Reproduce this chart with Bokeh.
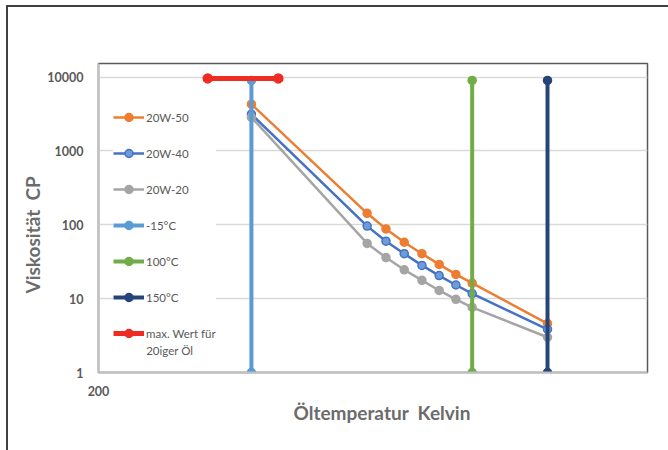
import math
from bokeh.plotting import figure
from bokeh.models import Legend, LegendItem, Label, FixedTicker, Range1d, Title
from bokeh.embed import file_html
from bokeh.resources import INLINE

# ---- data (temperatures in Kelvin, viscosity in cP) ----
temps_K = [258.15, 313.15, 323.15, 333.15, 343.15, 353.15, 363.15, 373.15, 423.15]
visc_20w50 = [4300, 143, 88, 58, 40.6, 29.1, 21.3, 16.2, 4.6]
visc_20w40 = [3150, 96, 60, 40.6, 28.2, 20.5, 15.3, 11.7, 3.85]
visc_20w20 = [2850, 56, 36, 24.6, 17.7, 12.9, 9.8, 7.6, 3.0]

line_m15_x = [258.15, 258.15]
line_m15_y = [1, 9000]
line_100_x = [373.15, 373.15]
line_100_y = [1, 9000]
line_150_x = [423.15, 423.15]
line_150_y = [1, 9000]
max_x = [240, 270]
max_y = [9600, 9600]

series_names = ["20W-50", "20W-40", "20W-20", "-15°C", "100°C", "150°C", "max. Wert für"]
y_ticks = [1, 10, 100, 1000, 10000]
x_ticks = [200]
x_title = "Öltemperatur \u00a0Kelvin"
y_title = "Viskosität \u00a0CP"

TXT = "#595959"
TITLE_COL = "#6b6b6b"
FONT = "Lato"

p = figure(width=668, height=450, x_axis_type="log", y_axis_type="log",
           x_range=Range1d(200, 500), y_range=Range1d(1, 10 ** 4.184),
           output_backend="svg", toolbar_location=None,
           min_border_left=98, min_border_right=21, min_border_top=63, min_border_bottom=78)
p.background_fill_color = "white"
p.border_fill_color = None
p.outline_line_color = "#595959"
p.outline_line_width = 1.5
p.styles = {
    "background-color": "white",
    "background-image": "linear-gradient(#404040,#404040), linear-gradient(#404040,#404040)",
    "background-size": "2px 100%, 100% 2px",
    "background-position": "6px 5px, 6px 5px",
    "background-repeat": "no-repeat",
}

# grid
p.xgrid.grid_line_color = None
p.ygrid.grid_line_color = "#d9d9d9"
p.ygrid.grid_line_width = 1.5
p.ygrid.ticker = FixedTicker(ticks=y_ticks)

# axes
p.yaxis.ticker = FixedTicker(ticks=y_ticks)
p.yaxis.major_label_overrides = {t: str(t) for t in y_ticks}
p.xaxis.ticker = FixedTicker(ticks=x_ticks)
p.xaxis.major_label_overrides = {t: str(t) for t in x_ticks}
for ax in (p.xaxis[0], p.yaxis[0]):
    ax.axis_line_color = "#bfbfbf"
    ax.axis_line_width = 2
    ax.major_tick_line_color = None
    ax.minor_tick_line_color = None
    ax.major_tick_in = 0
    ax.major_tick_out = 0
    ax.minor_tick_in = 0
    ax.minor_tick_out = 0
    ax.major_label_text_font = FONT
    ax.major_label_text_font_style = "bold"
    ax.major_label_text_font_size = "12.5px"
    ax.major_label_text_color = TXT
p.yaxis.major_label_standoff = 15
p.xaxis.major_label_standoff = 13

# series
def series(x, y, color, lw, size, fill=None):
    r1 = p.line(x, y, line_color=color, line_width=lw)
    r2 = p.scatter(x, y, size=size, fill_color=fill or color, line_color=color, line_width=1.5)
    return [r1, r2]

r_50 = series(temps_K, visc_20w50, "#ED7D31", 2.5, 8)
r_40 = series(temps_K, visc_20w40, "#4472C4", 2.5, 8, fill="#6f9bd8")
r_20 = series(temps_K, visc_20w20, "#A5A5A5", 2.5, 8)
r_m15 = series(line_m15_x, line_m15_y, "#5B9BD5", 4, 8)
r_100 = series(line_100_x, line_100_y, "#70AD47", 4, 8)
r_150 = series(line_150_x, line_150_y, "#264478", 4, 8)
r_max = series(max_x, max_y, "#EE2C24", 5, 9)

items = [LegendItem(label=n, renderers=r) for n, r in
         zip(series_names, [r_50, r_40, r_20, r_m15, r_100, r_150, r_max])]
legend = Legend(items=items, location=(15, 29), orientation="vertical",
                glyph_width=31, glyph_height=20, label_height=20, label_width=60,
                spacing=16, padding=5, margin=0, label_standoff=2,
                label_text_font=FONT, label_text_font_size="11.5px",
                label_text_color=TXT,
                background_fill_color="white", background_fill_alpha=1.0,
                border_line_color=None)
p.add_layout(legend)

p.add_layout(Label(x=47.7, y=22, x_units="screen", y_units="screen", text="20iger Öl",
                   text_font=FONT, text_font_size="11.5px", text_color=TXT,
                   text_baseline="middle", text_align="left", level="overlay"))

# axis titles
xt = Title(text=x_title, align="left", offset=195,
           text_font=FONT, text_font_size="19px", text_font_style="bold",
           text_color=TITLE_COL, standoff=0)
p.add_layout(xt, "below")
yt = Title(text=y_title, align="left", offset=79,
           text_font=FONT, text_font_size="19px", text_font_style="bold",
           text_color=TITLE_COL, standoff=2)
p.add_layout(yt, "left")

open("out.html", "w").write(file_html(p, INLINE))
